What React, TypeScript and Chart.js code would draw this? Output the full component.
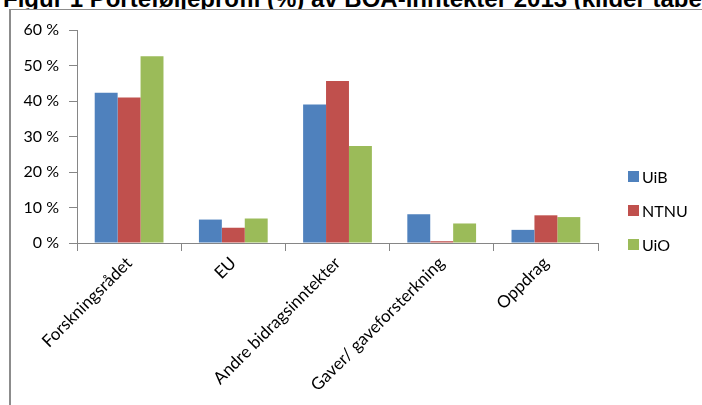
import React, { useEffect, useRef } from "react";
import { Chart, registerables } from "chart.js";

Chart.register(...registerables);

const categories = [
  "Forskningsrådet",
  "EU",
  "Andre bidragsinntekter",
  "Gaver/ gaveforsterkning",
  "Oppdrag",
];
const seriesNames = ["UiB", "NTNU", "UiO"];
const uibValues = [42.3, 6.6, 39.0, 8.1, 3.7];
const ntnuValues = [41.0, 4.3, 45.6, 0.5, 7.8];
const uioValues = [52.6, 6.9, 27.3, 5.5, 7.3];
const seriesColors = ["#4F81BD", "#C0504D", "#9BBB59"];
const titleText = "Figur 1 Porteføljeprofil (%) av BOA-inntekter 2013 (kilder tabell 1)";

const FONT = "Lato, 'Open Sans', sans-serif";
const AXIS_COLOR = "#868686";

const legendPlugin = {
  id: "sideLegend",
  afterDraw(chart: any) {
    const ctx = chart.ctx;
    const area = chart.chartArea;
    const x = area.right + 30;
    const rowGap = 34;
    const centerY = chart.height / 2 + 3;
    const n = chart.data.datasets.length;
    ctx.save();
    ctx.font = `16px ${FONT}`;
    ctx.textBaseline = "middle";
    ctx.textAlign = "left";
    chart.data.datasets.forEach((ds: any, i: number) => {
      const y = centerY + (i - (n - 1) / 2) * rowGap;
      ctx.fillStyle = ds.backgroundColor;
      ctx.fillRect(x, y - 5.5, 11, 11);
      ctx.fillStyle = "#000";
      ctx.fillText(ds.label, x + 14, y + 1);
    });
    ctx.restore();
  },
};

export default function App() {
  const canvasRef = useRef<HTMLCanvasElement | null>(null);

  useEffect(() => {
    document.body.style.overflow = "hidden";
    const canvas = canvasRef.current;
    if (!canvas) return;
    const chart = new Chart(canvas, {
      type: "bar",
      data: {
        labels: categories,
        datasets: [uibValues, ntnuValues, uioValues].map((vals, i) => ({
          label: seriesNames[i],
          data: vals,
          backgroundColor: seriesColors[i],
          borderWidth: 0,
          categoryPercentage: 0.66,
          barPercentage: 1,
        })),
      },
      options: {
        animation: false,
        responsive: false,
        maintainAspectRatio: false,
        devicePixelRatio: 1,
        layout: { padding: { top: 20, right: 104, bottom: 0, left: 0 } },
        plugins: {
          legend: { display: false },
          tooltip: { enabled: false },
          title: { display: false },
        },
        scales: {
          x: {
            grid: {
              display: true,
              drawOnChartArea: false,
              tickLength: 8,
              color: AXIS_COLOR,
              offset: true,
            },
            border: { display: true, color: AXIS_COLOR },
            ticks: {
              minRotation: 45,
              maxRotation: 45,
              padding: 2,
              color: "#000",
              font: { family: FONT, size: 17 },
            },
            afterFit: (scale: any) => {
              scale.height = 162;
            },
          },
          y: {
            min: 0,
            max: 60,
            grid: {
              display: true,
              drawOnChartArea: false,
              tickLength: 8,
              color: AXIS_COLOR,
            },
            border: { display: true, color: AXIS_COLOR },
            ticks: {
              stepSize: 10,
              padding: 10,
              color: "#000",
              font: { family: FONT, size: 16 },
              callback: (v: any) => `${v} %`,
            },
            afterFit: (scale: any) => {
              scale.width = 66;
            },
          },
        },
      },
      plugins: [legendPlugin],
    });
    return () => chart.destroy();
  }, []);

  return (
    <div>
      <div
        style={{
          position: "absolute",
          left: 3,
          top: -13,
          font: "bold 24px 'Liberation Sans', Arial, sans-serif",
          lineHeight: "24px",
          whiteSpace: "nowrap",
          color: "#000",
        }}
      >
        {titleText}
      </div>
      <div
        style={{
          position: "absolute",
          left: 9,
          top: 9,
          width: 693,
          height: 396,
          borderLeft: "2px solid #8c8c8c",
          borderTop: "1px solid #8c8c8c",
          background: "#fff",
        }}
      >
        <canvas ref={canvasRef} width={691} height={395} style={{ display: "block" }} />
      </div>
    </div>
  );
}
